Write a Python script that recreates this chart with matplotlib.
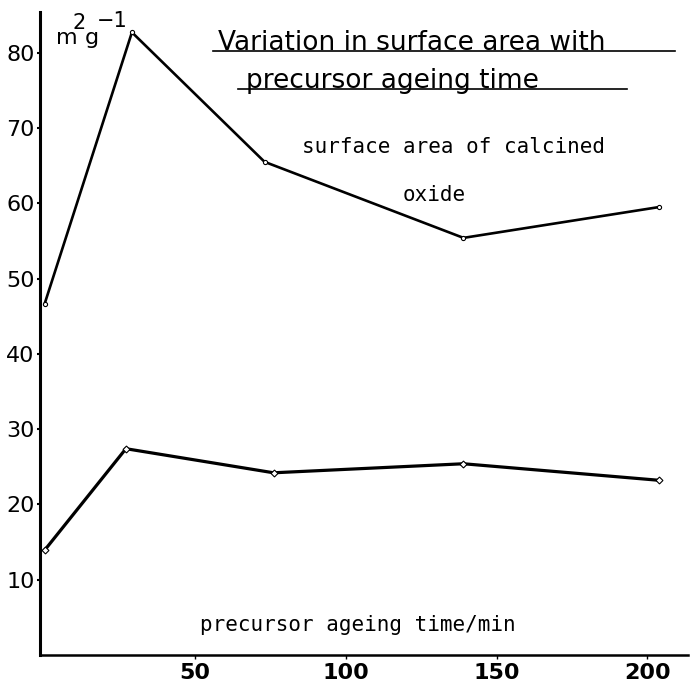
import matplotlib.pyplot as plt

# ageing time (min) and surface areas (m2/g)
time_upper = [0, 29, 73, 139, 204]
area_calcined = [46.6, 82.7, 65.5, 55.4, 59.5]

time_lower = [0, 27, 76, 139, 204]
area_precursor = [13.9, 27.4, 24.2, 25.4, 23.2]

x_ticks = [50, 100, 150, 200]
y_ticks = [10, 20, 30, 40, 50, 60, 70, 80]

W, H = 690, 686
fig = plt.figure(figsize=(W / 100, H / 100), dpi=100)
ax = fig.add_axes([40 / W, 31 / H, 648 / W, 643 / H])

ax.plot(time_upper, area_calcined, color="black", lw=1.9,
        marker="o", ms=3, mfc="white", mec="black", mew=0.8)
ax.plot(time_lower, area_precursor, color="black", lw=2.3,
        marker="D", ms=3.5, mfc="white", mec="black", mew=0.8)

ax.set_xlim(-1.5, 213.5)
ax.set_ylim(0, 85.4)

for side in ("top", "right"):
    ax.spines[side].set_visible(False)
ax.spines["left"].set_linewidth(2.2)
ax.spines["bottom"].set_linewidth(1.8)

ax.set_xticks(x_ticks)
ax.set_xticklabels([str(v) for v in x_ticks], fontsize=16, fontweight="bold")
ax.set_yticks(y_ticks)
ax.set_yticklabels([str(v) for v in y_ticks], fontsize=16)
ax.tick_params(axis="x", direction="out", length=3, width=1, pad=3)
ax.tick_params(axis="y", direction="out", length=2, width=1.5, pad=2)

# units on the y axis: m^2 g^-1
def px(x, y):
    return x / W, 1 - y / H

fig.text(*px(56, 44), "m", fontsize=16, ha="left", va="baseline")
fig.text(*px(73, 29), "2", fontsize=15, ha="left", va="baseline")
fig.text(*px(85, 44), "g", fontsize=16, ha="left", va="baseline")
fig.text(*px(97, 27), "\u22121", fontsize=15, ha="left", va="baseline")

# title, underlined
fig.text(*px(218, 50), "Variation in surface area with",
         fontsize=19, ha="left", va="baseline")
fig.add_artist(plt.Line2D([213 / W, 675 / W], [1 - 51 / H, 1 - 51 / H],
                          color="black", lw=1.2))
fig.text(*px(246, 88), "precursor ageing time",
         fontsize=19, ha="left", va="baseline")
fig.add_artist(plt.Line2D([238 / W, 627 / W], [1 - 89 / H, 1 - 89 / H],
                          color="black", lw=1.2))

# curve label and axis label
mono = "DejaVu Sans Mono"
fig.text(*px(453, 147), "surface area of calcined",
         fontsize=15, family=mono, ha="center", va="center")
fig.text(*px(434, 195), "oxide",
         fontsize=15, family=mono, ha="center", va="center")
fig.text(*px(358, 625), "precursor ageing time/min",
         fontsize=15, family=mono, ha="center", va="center")

fig.savefig("out.png", dpi=100)
